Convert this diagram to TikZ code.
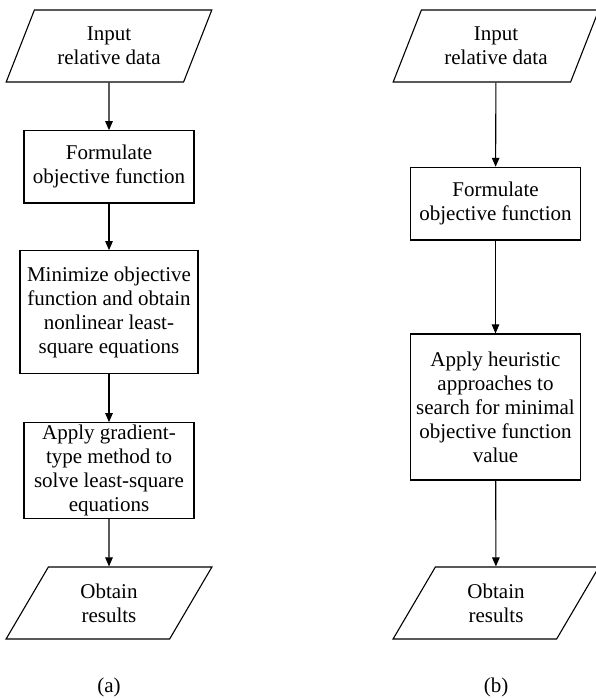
\documentclass[tikz,border=0pt]{standalone}
\usepackage{fontspec}
\setmainfont{Liberation Serif}
\usetikzlibrary{arrows.meta,shapes.geometric}
\begin{document}
\begin{tikzpicture}[x=1pt,y=1pt,
  every node/.style={font=\fontsize{21}{24}\selectfont, align=center, inner sep=0pt},
  procbox/.style={draw, line width=1.1pt, rectangle},
  iobox/.style={draw, line width=1.1pt, trapezium, trapezium left angle=62.8, trapezium right angle=117.2, trapezium stretches=true, minimum width=206pt, minimum height=72pt},
  flow/.style={-{Triangle[length=9pt,width=7.5pt]}, line width=1.1pt},
  caption/.style={}
]
\useasboundingbox (0,0) rectangle (595,698);
% left (a)
\node[iobox] (a1) at (109,652) {Input\\relative data};
\node[procbox, minimum width=170pt, minimum height=72.3pt] (a2) at (109,531.1) {Formulate\\objective function};
\node[procbox, minimum width=178pt, minimum height=122.6pt] (a3) at (109,386) {Minimize objective\\function and obtain\\nonlinear least-\\square equations};
\node[procbox, minimum width=170pt, minimum height=95.6pt] (a4) at (109,227.5) {Apply gradient-\\type method to\\solve least-square\\equations};
\node[iobox] (a5) at (109,95) {Obtain\\results};
\node[caption] (acap) at (109,11) {(a)};
\draw[flow] (a1) -- (a2);
\draw[flow] (a2) -- (a3);
\draw[flow] (a3) -- (a4);
\draw[flow] (a4) -- (a5);
% right (b)
\node[iobox] (b1) at (496,652) {Input\\relative data};
\node[procbox, minimum width=169.3pt, minimum height=72.7pt] (b2) at (495.5,494.3) {Formulate\\objective function};
\node[procbox, minimum width=169.3pt, minimum height=146pt] (b3) at (495.5,291) {Apply heuristic\\approaches to\\search for minimal\\objective function\\value};
\node[iobox] (b4) at (496,95) {Obtain\\results};
\node[caption] (bcap) at (496,11) {(b)};
\draw[flow] (b1) -- (b2);
\draw[flow] (b2) -- (b3);
\draw[flow] (b3) -- (b4);
\end{tikzpicture}
\end{document}
